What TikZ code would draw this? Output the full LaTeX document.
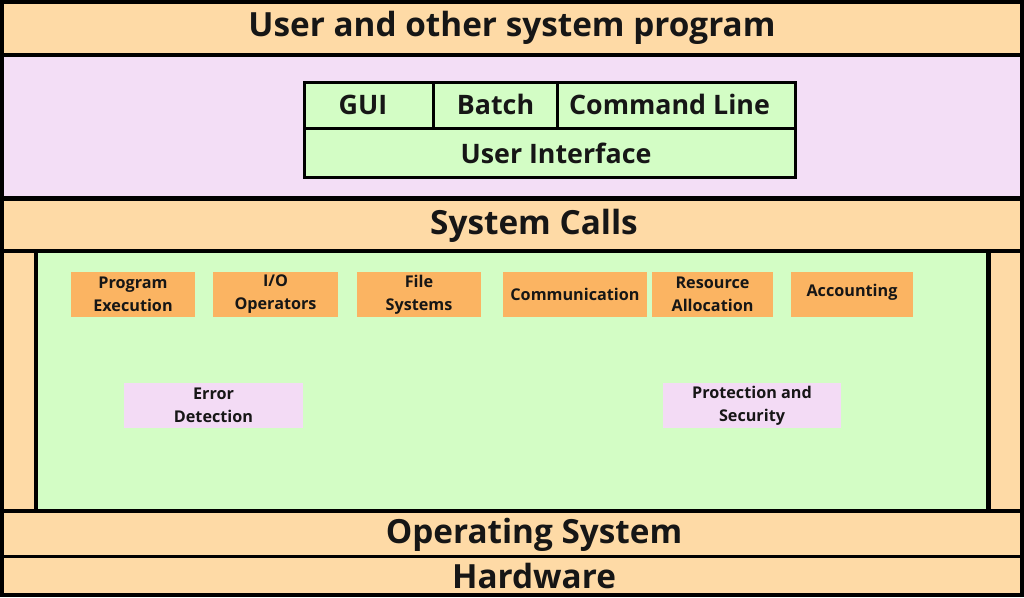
\documentclass[tikz,border=0pt]{standalone}
\usepackage{fontspec}
\setmainfont{Open Sans}
\definecolor{bandor}{HTML}{FEDAA6}
\definecolor{lilac}{HTML}{F3DEF6}
\definecolor{mint}{HTML}{D3FDC5}
\definecolor{boxor}{HTML}{FBB462}
\definecolor{pinkbox}{HTML}{F3DBF5}
\definecolor{ink}{HTML}{161616}
\tikzset{
  area/.style={anchor=north west, inner sep=0pt, outer sep=0pt, draw=none, align=center, text=ink, font=\bfseries},
  lbl/.style={inner sep=0pt, align=center, text=ink},
  big/.style={font=\fontsize{33.3}{36}\selectfont\bfseries},
  mid/.style={font=\fontsize{26.8}{30}\selectfont\bfseries},
  small/.style={font=\fontsize{16.2}{23}\selectfont\bfseries},
  svc/.style={area, fill=boxor, small, minimum height=45pt},
  prot/.style={area, fill=pinkbox, small, minimum height=45pt},
}
\begin{document}
\begin{tikzpicture}[x=1pt,y=-1pt]
\useasboundingbox (0,0) rectangle (1024,597);
% outer black frame
\node[area, fill=black, minimum width=1024pt, minimum height=597pt] (frame) at (0,0) {};
% bands
\node[area, fill=bandor, minimum width=1016pt, minimum height=49pt] (user) at (4,4) {};
\node[lbl, big] (usertxt) at ([yshift=1pt]user.center) {User and other system program};
\node[area, fill=lilac, minimum width=1016pt, minimum height=139pt] (lil) at (4,57) {};
\node[area, fill=bandor, minimum width=1016pt, minimum height=48pt] (sys) at (4,201) {};
\node[lbl, big] (systxt) at ([xshift=22pt,yshift=-1pt]sys.center) {System Calls};
\node[area, fill=bandor, minimum width=30pt, minimum height=256pt] (lstrip) at (4,253) {};
\node[area, fill=mint, minimum width=948pt, minimum height=256pt] (green) at (38,253) {};
\node[area, fill=bandor, minimum width=29pt, minimum height=256pt] (rstrip) at (991,253) {};
\node[area, fill=bandor, minimum width=1016pt, minimum height=42pt] (os) at (4,513) {};
\node[lbl, big] (ostxt) at ([xshift=22pt,yshift=-1pt]os.center) {Operating System};
\node[area, fill=bandor, minimum width=1016pt, minimum height=35pt] (hw) at (4,558) {};
\node[lbl, big] (hwtxt) at ([xshift=22pt,yshift=-1pt]hw.center) {Hardware};
% user interface block
\node[area, fill=black, minimum width=494pt, minimum height=98pt] (uiframe) at (303,81) {};
\node[area, fill=mint, minimum width=126pt, minimum height=43pt] (gui) at (306,84) {};
\node[lbl, mid] (guitxt) at ([xshift=-6pt,yshift=1pt]gui.center) {GUI};
\node[area, fill=mint, minimum width=121pt, minimum height=43pt] (batch) at (435,84) {};
\node[lbl, mid] (batchtxt) at ([yshift=1pt]batch.center) {Batch};
\node[area, fill=mint, minimum width=235pt, minimum height=43pt] (cmd) at (559,84) {};
\node[lbl, mid] (cmdtxt) at ([xshift=-7pt,yshift=1pt]cmd.center) {Command Line};
\node[area, fill=mint, minimum width=488pt, minimum height=46pt] (ui) at (306,130) {};
\node[lbl, mid] (uitxt) at ([xshift=6pt]ui.center) {User Interface};
% services
\node[svc, minimum width=124pt] (prog) at (71,272) {Program\\Execution};
\node[svc, minimum width=125pt] (io) at (213,272) {I/O\\Operators};
\node[svc, minimum width=124pt] (file) at (357,272) {File\\Systems};
\node[svc, minimum width=144pt] (comm) at (503,272) {Communication};
\node[svc, minimum width=121pt] (res) at (652,272) {Resource\\Allocation};
\node[svc, minimum width=122pt, text depth=8pt] (acc) at (791,272) {Accounting};
\node[prot, minimum width=179pt] (err) at (124,383) {Error\\Detection};
\node[prot, minimum width=178pt] (prot) at (663,383) {Protection and\\Security};
\end{tikzpicture}
\end{document}
